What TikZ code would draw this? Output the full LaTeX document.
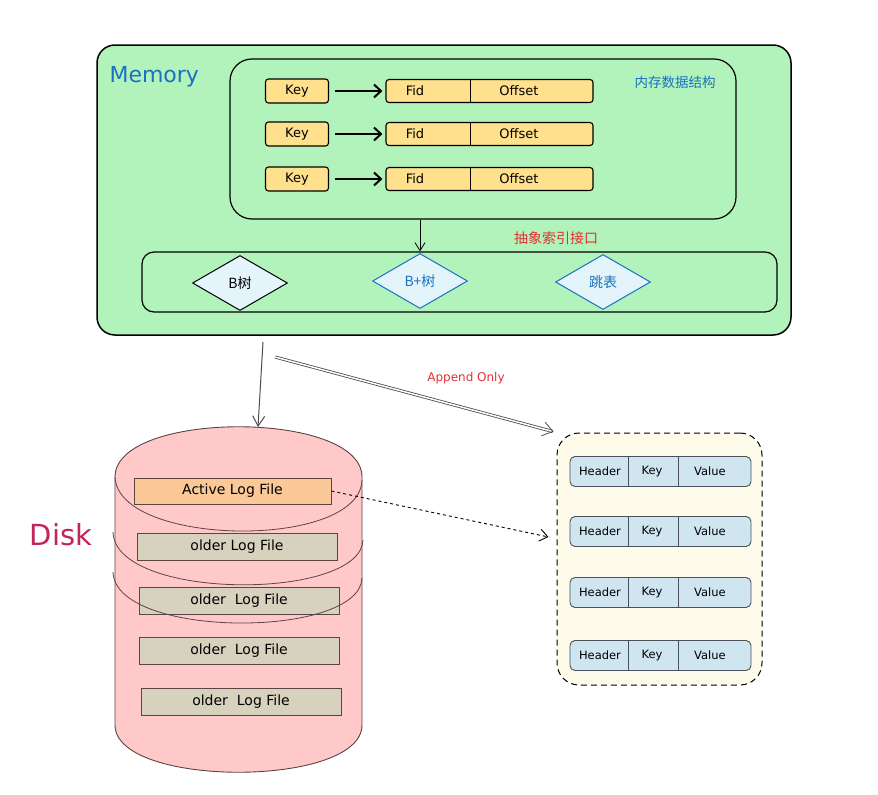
\documentclass[tikz,border=0pt]{standalone}
\usepackage{fontspec}
\setmainfont{DejaVu Sans}
\newfontfamily\cjk{Noto Sans CJK SC}
\usepackage{tikz}
\usetikzlibrary{shapes.geometric}
\usetikzlibrary{arrows.meta}

\definecolor{memgreen}{HTML}{B2F2BB}
\definecolor{keyyellow}{HTML}{FFE08C}
\definecolor{exblue}{HTML}{1971C2}
\definecolor{exred}{HTML}{E03131}
\definecolor{diamondfill}{HTML}{E3F4FB}
\definecolor{diskpink}{HTML}{FFC9C9}
\definecolor{diskred}{HTML}{C2255C}
\definecolor{diskline}{HTML}{5C4444}
\definecolor{activeorange}{HTML}{FBC997}
\definecolor{oldgray}{HTML}{D6D2BD}
\definecolor{bagfill}{HTML}{FFFBEA}
\definecolor{recfill}{HTML}{CFE6F1}
\definecolor{recline}{HTML}{495057}

\tikzset{
  keybox/.style={draw, line width=1.1pt, fill=keyyellow, rounded corners=3pt, minimum width=63pt, minimum height=24pt, inner sep=0pt, font=\fontsize{13}{15}\selectfont},
  rowbox/.style={draw, line width=1.1pt, fill=keyyellow, rounded corners=3pt, minimum width=207pt, minimum height=23pt, inner sep=0pt},
  celltext/.style={inner sep=0pt, font=\fontsize{13}{15}\selectfont},
  keyarrow/.style={-{Straight Barb[length=7pt,width=13pt]}, line width=2pt, shorten <=6pt, shorten >=3pt},
  index/.style={diamond, draw, line width=1pt, fill=diamondfill, minimum width=95pt, minimum height=55pt, inner sep=0pt, font=\cjk\fontsize{14}{16}\selectfont},
  logfile/.style={draw=diskline, line width=0.9pt, fill=oldgray, minimum width=200pt, minimum height=27pt, inner sep=0pt, font=\fontsize{14}{16}\selectfont},
  record/.style={draw=recline, line width=0.9pt, fill=recfill, rounded corners=5pt, minimum width=181pt, minimum height=30pt, inner sep=0pt},
  recordtext/.style={inner sep=0pt, font=\fontsize{11.5}{13}\selectfont},
  lip/.style={draw=diskline, line width=0.8pt},
}

\begin{document}
\begin{tikzpicture}[x=1pt,y=-1pt]
  \useasboundingbox (0,0) rectangle (878,795);

  \node[draw, line width=1.5pt, fill=memgreen, rounded corners=18pt, minimum width=694pt, minimum height=290pt] (memory) at (444,190) {};
  \node[anchor=west, text=exblue, font=\fontsize{22}{25}\selectfont] (memlabel) at (106,77) {Memory};
  \node[draw, line width=1.2pt, rounded corners=22pt, minimum width=506pt, minimum height=160pt] (structs) at (483,139) {};
  \node[text=exblue, font=\cjk\fontsize{13.5}{15}\selectfont] (structlabel) at (675,82) {内存数据结构};

  \foreach \i/\y in {1/91,2/134,3/179} {
    \node[keybox] (key\i) at (297,\y) {Key};
    \node[rowbox] (row\i) at (489.5,\y) {};
    \draw[line width=1.1pt] ([xshift=85pt]row\i.north west) -- ([xshift=85pt]row\i.south west);
    \node[celltext] (fid\i) at (415,\y) {Fid};
    \node[celltext] (off\i) at (519,\y) {Offset};
    \draw[keyarrow] (key\i) -- (row\i);
  }

  \node[draw, line width=1.2pt, rounded corners=12pt, minimum width=635pt, minimum height=60pt] (indexbar) at (459.5,282) {};
  \node[index] (btree) at (240,283) {B树};
  \node[index, draw=exblue, text=exblue] (bplus) at (420,281) {B+树};
  \node[index, draw=exblue, text=exblue] (skiplist) at (603,282) {跳表};
  \draw[line width=0.8pt, -{Straight Barb[length=8pt,width=10pt]}] (structs.south -| bplus) -- (indexbar.north -| bplus);
  \node[text=exred, font=\cjk\fontsize{14}{16}\selectfont] (indexlabel) at (556,238) {抽象索引接口};

  \draw[draw=diskline, fill=diskpink, line width=0.9pt] (115,477) .. controls (115,410) and (362,410) .. (362,477) -- (362,725) .. controls (362,788) and (115,788) .. (115,725) -- cycle;
  \node[text=diskred, font=\fontsize{29}{32}\selectfont] (disklabel) at (61,535) {Disk};
  \node[logfile, fill=activeorange, minimum width=197pt, minimum height=26pt] (active) at (232.5,491) {Active Log File};
  \node[logfile] (older1) at (237,546.5) {older Log File};
  \node[logfile] (older2) at (239,600.5) {older\ \ Log File};
  \node[logfile] (older3) at (239,650.5) {older\ \ Log File};
  \node[logfile] (older4) at (241,702) {older\ \ Log File};
  \draw[lip] (115,477) .. controls (118,547) and (360,550) .. (362,480);
  \draw[lip] (113,532) .. controls (115,601) and (361,601) .. (363,540);
  \draw[lip] (113,572) .. controls (115,639) and (360,639) .. (362,578);

  \coordinate (memout) at (263,342);
  \coordinate (disktop) at (258,427);
  \draw[gray!60!black, line width=1pt, -{Straight Barb[length=10pt,width=12pt]}] (memout) -- (disktop);

  \node[draw, dash pattern=on 6pt off 4pt, line width=1pt, fill=bagfill, rounded corners=22pt, minimum width=205pt, minimum height=252pt] (logbag) at (659.5,559) {};
  \foreach \i/\y in {1/471.5,2/531.5,3/592.5,4/655.5} {
    \node[record] (rec\i) at (660.5,\y) {};
    \draw[recline, line width=0.9pt] ([xshift=59pt]rec\i.north west) -- ([xshift=59pt]rec\i.south west);
    \draw[recline, line width=0.9pt] ([xshift=109pt]rec\i.north west) -- ([xshift=109pt]rec\i.south west);
    \node[recordtext] (hdr\i) at (600,\y) {Header};
    \node[recordtext] (rkey\i) at (652,\y) {Key};
    \node[recordtext] (val\i) at (710,\y) {Value};
  }

  \coordinate (appendfrom) at (275,357);
  \draw[gray!60!black, line width=0.8pt, double, double distance=1.5pt, -{Straight Barb[length=10pt,width=14pt]}, shorten >=3pt] (appendfrom) -- (logbag.north west);
  \node[text=exred, font=\fontsize{12}{14}\selectfont] (appendlabel) at (466,378) {Append Only};
  \draw[dashed, line width=0.9pt, -{Straight Barb[length=8pt,width=12pt]}] (active.east) -- ([xshift=-8pt,yshift=22pt]logbag.west);
\end{tikzpicture}
\end{document}
